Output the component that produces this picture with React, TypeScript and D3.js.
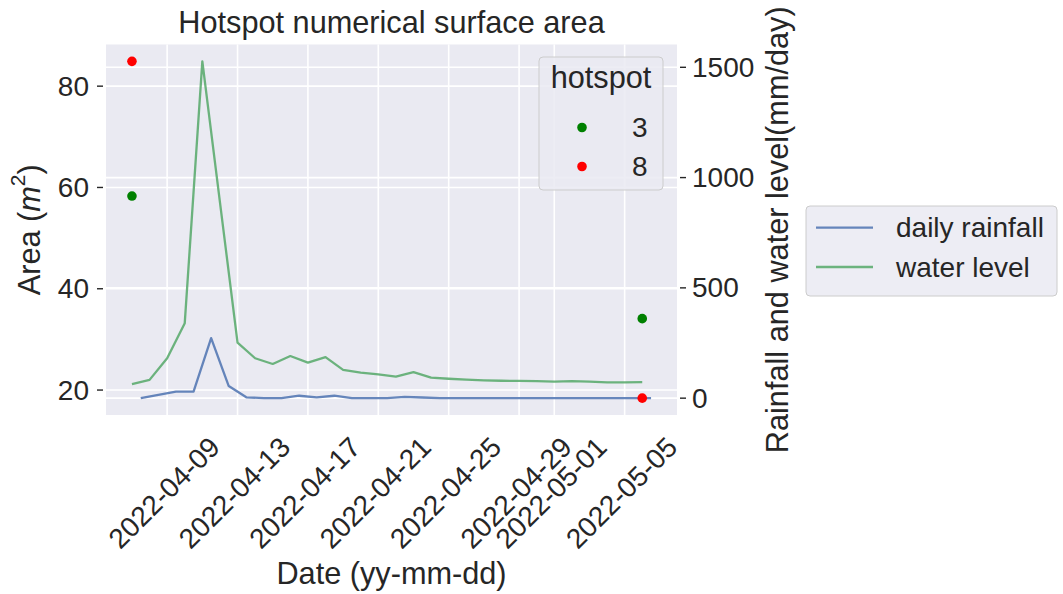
import { useRef, useEffect } from 'react';
import * as d3 from 'd3';

// water level, one value per day (midnight)
const levelDates = [
  '2022-04-07', '2022-04-08', '2022-04-09', '2022-04-10', '2022-04-11', '2022-04-12',
  '2022-04-13', '2022-04-14', '2022-04-15', '2022-04-16', '2022-04-17', '2022-04-18',
  '2022-04-19', '2022-04-20', '2022-04-21', '2022-04-22', '2022-04-23', '2022-04-24',
  '2022-04-25', '2022-04-26', '2022-04-27', '2022-04-28', '2022-04-29', '2022-04-30',
  '2022-05-01', '2022-05-02', '2022-05-03', '2022-05-04', '2022-05-05', '2022-05-06',
];
const waterLevel = [
  64, 83, 181, 340, 1527, 889, 252, 181, 155, 191, 161, 186, 128, 116, 108,
  98, 118, 93, 88, 84, 81, 79, 78, 77, 75, 77, 75, 72, 72, 73,
];
// daily rainfall is stamped at noon of the same days
const dailyRainfall = [
  0, 15, 30, 30, 272, 55, 4, 0, 0, 11, 4, 11, 0, 0, 0,
  6, 3, 0, 0, 0, 0, 0, 0, 0, 0, 0, 0, 0, 0, 0,
];

const hotspotIds = ['3', '8'];
const hotspotColors = ['green', 'red'];
const hotspotDates = ['2022-04-07', '2022-05-06'];
const hotspot3Area = [58.3, 34.1];
const hotspot8Area = [84.9, 18.4];

const xTickDates = [
  '2022-04-09', '2022-04-13', '2022-04-17', '2022-04-21',
  '2022-04-25', '2022-04-29', '2022-05-01', '2022-05-05',
];
const areaTicks = [20, 40, 60, 80];
const levelTicks = [0, 500, 1000, 1500];

const lineLabels = ['daily rainfall', 'water level'];
const lineColors = ['#4c72b0', '#55a868'];

const W = 1063;
const H = 594;
const font = '"Liberation Sans", Arial, sans-serif';
const textColor = '#262626';
const bigFont = '30.7px';
const tickFont = '28px';

const padded = (lo, hi) => {
  const p = (hi - lo) * 0.05;
  return [lo - p, hi + p];
};

const App = () => {
  const ref = useRef(null);

  useEffect(() => {
    const parse = d3.timeParse('%Y-%m-%d');
    const levelPts = levelDates.map((d, i) => ({ date: parse(d), value: waterLevel[i] }));
    const rainPts = levelDates.map((d, i) => ({
      date: d3.timeHour.offset(parse(d), 12),
      value: dailyRainfall[i],
    }));
    const hotspots = [hotspot3Area, hotspot8Area].map((arr, k) =>
      arr.map((v, i) => ({ date: parse(hotspotDates[i]), value: v, k }))
    );

    const left = 106;
    const right = 677;
    const top = 44.5;
    const bottom = 415;

    const allDates = [...levelPts, ...rainPts].map(d => +d.date);
    const [x0, x1] = padded(d3.min(allDates), d3.max(allDates));
    const x = d3.scaleTime().domain([new Date(x0), new Date(x1)]).range([left, right]);

    const areaVals = [...hotspot3Area, ...hotspot8Area];
    const yA = d3
      .scaleLinear()
      .domain(padded(d3.min(areaVals), d3.max(areaVals)))
      .range([bottom, top]);

    const lvlVals = [...waterLevel, ...dailyRainfall];
    const yR = d3
      .scaleLinear()
      .domain(padded(d3.min(lvlVals), d3.max(lvlVals)))
      .range([bottom, top]);

    d3.select(ref.current).selectAll('*').remove();
    const svg = d3
      .select(ref.current)
      .attr('width', W)
      .attr('height', H)
      .style('font-family', font);

    svg.append('rect').attr('width', W).attr('height', H).attr('fill', '#ffffff');

    // plot background
    svg
      .append('rect')
      .attr('x', left)
      .attr('y', top)
      .attr('width', right - left)
      .attr('height', bottom - top)
      .attr('fill', '#eaeaf2');

    const grid = svg.append('g').attr('stroke', '#ffffff').attr('stroke-width', 1.6);
    xTickDates.forEach(d => {
      const px = x(parse(d));
      grid.append('line').attr('x1', px).attr('x2', px).attr('y1', top).attr('y2', bottom);
    });
    areaTicks.forEach(t => {
      grid.append('line').attr('x1', left).attr('x2', right).attr('y1', yA(t)).attr('y2', yA(t));
    });
    levelTicks.forEach(t => {
      grid.append('line').attr('x1', left).attr('x2', right).attr('y1', yR(t)).attr('y2', yR(t));
    });

    // lines
    const line = d3
      .line()
      .x(d => x(d.date))
      .y(d => yR(d.value));
    [rainPts, levelPts].forEach((pts, i) => {
      svg
        .append('path')
        .datum(pts)
        .attr('d', line)
        .attr('fill', 'none')
        .attr('stroke', lineColors[i])
        .attr('stroke-opacity', 0.85)
        .attr('stroke-width', 2.3)
        .attr('stroke-linejoin', 'round');
    });

    // hotspot dots
    hotspots.forEach((pts, k) => {
      svg
        .selectAll(null)
        .data(pts)
        .enter()
        .append('circle')
        .attr('cx', d => x(d.date))
        .attr('cy', d => yA(d.value))
        .attr('r', 4.8)
        .attr('fill', hotspotColors[k]);
    });

    // left axis
    const axL = svg.append('g');
    areaTicks.forEach(t => {
      axL
        .append('line')
        .attr('x1', 97)
        .attr('x2', 103)
        .attr('y1', yA(t))
        .attr('y2', yA(t))
        .attr('stroke', textColor)
        .attr('stroke-width', 1.4);
      axL
        .append('text')
        .attr('x', 89)
        .attr('y', yA(t))
        .attr('text-anchor', 'end')
        .attr('dominant-baseline', 'central')
        .style('font-size', tickFont)
        .attr('fill', textColor)
        .text(t);
    });

    // right axis
    const axR = svg.append('g');
    levelTicks.forEach(t => {
      axR
        .append('line')
        .attr('x1', 680)
        .attr('x2', 686)
        .attr('y1', yR(t))
        .attr('y2', yR(t))
        .attr('stroke', textColor)
        .attr('stroke-width', 1.4);
      axR
        .append('text')
        .attr('x', 692)
        .attr('y', yR(t))
        .attr('dominant-baseline', 'central')
        .style('font-size', tickFont)
        .attr('fill', textColor)
        .text(t);
    });

    // x tick labels, rotated 45 deg, bbox centred on tick
    xTickDates.forEach(d => {
      const px = x(parse(d));
      svg
        .append('text')
        .attr('transform', `translate(${px - 3},${493}) rotate(-45)`)
        .attr('text-anchor', 'middle')
        .attr('dominant-baseline', 'central')
        .style('font-size', tickFont)
        .attr('fill', textColor)
        .text(d);
    });

    // titles
    svg
      .append('text')
      .attr('x', (left + right) / 2)
      .attr('y', 33)
      .attr('text-anchor', 'middle')
      .style('font-size', bigFont)
      .attr('fill', textColor)
      .text('Hotspot numerical surface area');

    svg
      .append('text')
      .attr('x', (left + right) / 2)
      .attr('y', 584)
      .attr('text-anchor', 'middle')
      .style('font-size', bigFont)
      .attr('fill', textColor)
      .text('Date (yy-mm-dd)');

    const areaLabel = svg
      .append('text')
      .attr('transform', `translate(29,${(top + bottom) / 2}) rotate(-90)`)
      .attr('text-anchor', 'middle')
      .attr('dominant-baseline', 'central')
      .style('font-size', bigFont)
      .attr('fill', textColor);
    areaLabel.append('tspan').text('Area (');
    areaLabel.append('tspan').style('font-style', 'italic').text('m');
    areaLabel
      .append('tspan')
      .attr('dy', -12)
      .style('font-size', '21px')
      .text('2');
    areaLabel.append('tspan').attr('dy', 12).text(')');

    svg
      .append('text')
      .attr('transform', `translate(777,${(top + bottom) / 2}) rotate(-90)`)
      .attr('text-anchor', 'middle')
      .attr('dominant-baseline', 'central')
      .style('font-size', bigFont)
      .attr('fill', textColor)
      .text('Rainfall and water level(mm/day)');

    // hotspot legend
    const lg1 = svg.append('g');
    lg1
      .append('rect')
      .attr('x', 539)
      .attr('y', 57)
      .attr('width', 124)
      .attr('height', 133)
      .attr('rx', 4)
      .attr('fill', '#eaeaf2')
      .attr('fill-opacity', 0.85)
      .attr('stroke', '#cccccc')
      .attr('stroke-width', 1);
    lg1
      .append('text')
      .attr('x', 601)
      .attr('y', 88)
      .attr('text-anchor', 'middle')
      .style('font-size', bigFont)
      .attr('fill', textColor)
      .text('hotspot');
    hotspotIds.forEach((id, i) => {
      const cy = 127.5 + i * 39;
      lg1.append('circle').attr('cx', 582).attr('cy', cy).attr('r', 4.8).attr('fill', hotspotColors[i]);
      lg1
        .append('text')
        .attr('x', 632)
        .attr('y', cy)
        .attr('dominant-baseline', 'central')
        .style('font-size', tickFont)
        .attr('fill', textColor)
        .text(id);
    });

    // line legend, outside on the right
    const lg2 = svg.append('g');
    lg2
      .append('rect')
      .attr('x', 806)
      .attr('y', 206)
      .attr('width', 251)
      .attr('height', 90)
      .attr('rx', 4)
      .attr('fill', '#eaeaf2')
      .attr('fill-opacity', 0.85)
      .attr('stroke', '#cccccc')
      .attr('stroke-width', 1);
    lineLabels.forEach((lab, i) => {
      const cy = 227.7 + i * 39.3;
      lg2
        .append('line')
        .attr('x1', 816)
        .attr('x2', 873)
        .attr('y1', cy)
        .attr('y2', cy)
        .attr('stroke', lineColors[i])
        .attr('stroke-opacity', 0.85)
        .attr('stroke-width', 2.3);
      lg2
        .append('text')
        .attr('x', 896)
        .attr('y', cy)
        .attr('dominant-baseline', 'central')
        .style('font-size', tickFont)
        .attr('fill', textColor)
        .text(lab);
    });
  }, []);

  return (
    <svg
      ref={ref}
      width={W}
      height={H}
      style={{ position: 'absolute', left: 0, top: 0, display: 'block' }}
    />
  );
};

export default App;
